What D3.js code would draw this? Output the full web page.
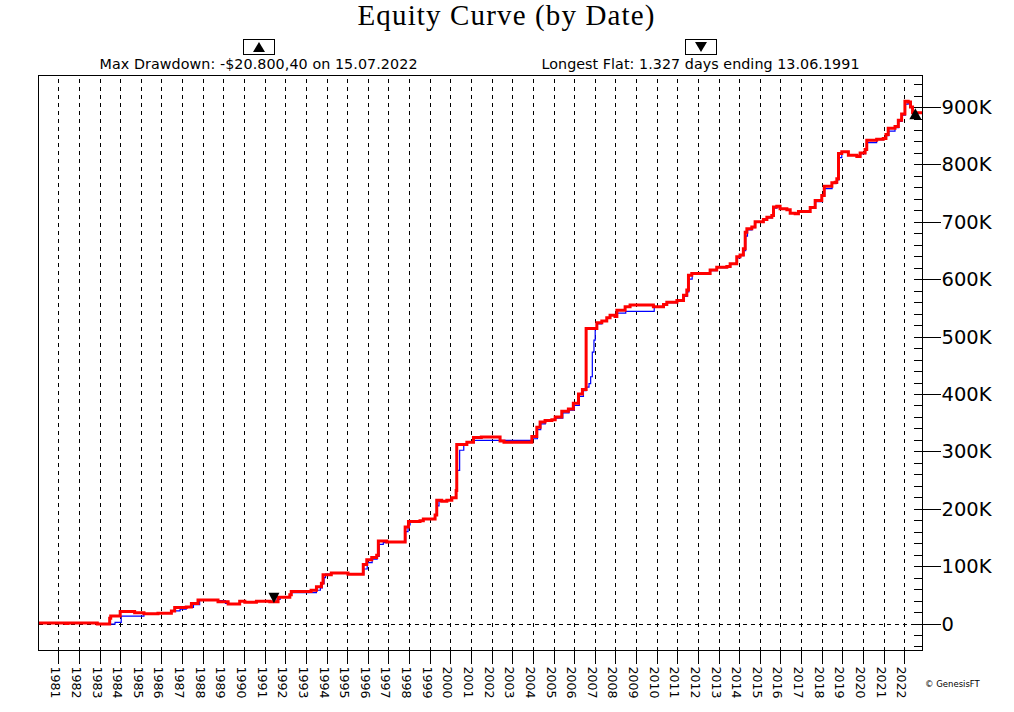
<!DOCTYPE html>
<html><head><meta charset="utf-8">
<script src="https://cdn.jsdelivr.net/npm/d3@7"></script>
<style>html,body{margin:0;padding:0;background:#fff;}svg{display:block;}</style>
</head><body>
<svg id="chart" width="1014" height="712"></svg>
<script>
// ---------- DATA (values in thousands of $) ----------
const titleText = "Equity Curve (by Date)";
const drawdownText = "Max Drawdown: -$20.800,40 on 15.07.2022";
const flatText = "Longest Flat: 1.327 days ending 13.06.1991";
const copyrightText = "\u00A9 GenesisFT";

const yearLabels = [1981,1982,1983,1984,1985,1986,1987,1988,1989,1990,1991,1992,1993,1994,1995,1996,1997,1998,1999,2000,2001,2002,2003,2004,2005,2006,2007,2008,2009,2010,2011,2012,2013,2014,2015,2016,2017,2018,2019,2020,2021,2022];
const yTickValues = [0,100,200,300,400,500,600,700,800,900];
const yTickLabels = ["0","100K","200K","300K","400K","500K","600K","700K","800K","900K"];

// open equity (red) : decimal year, value
const redYears = [1980.04,1981.37,1981.47,1981.63,1982.89,1982.92,1983.35,1983.49,1983.54,1984.0,1984.7,1985.15,1985.83,1986.48,1986.64,1987.2,1987.45,1987.77,1988.5,1988.74,1989.23,1989.79,1990.04,1990.6,1991.25,1991.65,1992.22,1992.29,1993.1,1993.25,1993.51,1993.75,1993.83,1994.23,1995.04,1995.78,1995.95,1996.19,1996.43,1996.51,1996.92,1997.81,1997.97,1998.53,1998.69,1999.26,1999.34,1999.58,1999.83,2000.07,2000.28,2000.31,2000.8,2001.12,2001.5,2002.41,2002.6,2003.95,2004.19,2004.35,2004.59,2004.92,2005.08,2005.4,2005.72,2005.96,2006.21,2006.4,2006.58,2007.1,2007.34,2007.58,2007.74,2007.98,2008.07,2008.47,2008.71,2009.84,2010.33,2010.49,2010.98,2011.3,2011.46,2011.54,2011.7,2012.59,2012.91,2013.4,2013.56,2013.88,2014.04,2014.2,2014.29,2014.37,2014.61,2014.77,2015.17,2015.34,2015.58,2015.66,2015.82,2015.98,2016.31,2016.47,2016.71,2016.87,2017.44,2017.68,2018.0,2018.12,2018.49,2018.65,2018.73,2018.81,2018.97,2019.29,2019.7,2019.86,2020.1,2020.18,2020.66,2020.98,2021.11,2021.22,2021.55,2021.71,2021.87,2022.03,2022.19,2022.3,2022.4,2022.88];
const redValues = [1,0,1,1,-1,-1,-1,9,13,21,19,17,18,22,28,29,35,41,41,38,34,39,37,39,38,46,50,56,56,58,64,70,85,88,86,103,111,115,119,144,142,168,178,179,182,189,215,213,215,219,232,312,316,324,325,318,316,326,342,351,354,355,360,370,374,384,400,408,514,524,527,533,537,535,546,552,555,552,556,560,563,572,581,607,610,616,621,622,627,639,642,653,682,688,691,700,704,708,711,726,727,723,721,715,714,718,725,737,746,762,768,769,775,819,822,816,814,820,826,842,844,845,852,863,866,877,888,910,909,900,890,890];

// closed equity (blue)
const blueYears = [1980.04,1981.37,1981.47,1981.63,1982.89,1982.92,1983.35,1983.75,1984.05,1985.15,1985.83,1986.48,1986.9,1987.2,1987.55,1987.85,1988.74,1989.1,1989.23,1989.79,1990.04,1990.6,1991.25,1991.6,1991.75,1992.22,1992.3,1993.1,1993.51,1993.7,1993.8,1993.88,1993.95,1994.23,1995.04,1995.8,1995.97,1996.21,1996.45,1996.55,1996.75,1996.92,1997.83,1997.95,1998.05,1998.53,1998.69,1999.26,1999.37,1999.45,1999.58,1999.83,2000.07,2000.28,2000.33,2000.45,2000.65,2000.8,2001.15,2003.97,2004.22,2004.38,2004.6,2004.92,2005.1,2005.45,2005.75,2006.0,2006.25,2006.45,2006.58,2006.72,2006.8,2006.88,2006.96,2007.02,2007.12,2007.34,2007.58,2007.74,2007.98,2008.09,2008.5,2009.88,2010.33,2010.5,2011.0,2011.32,2011.48,2011.56,2011.72,2012.6,2012.92,2013.4,2013.58,2013.9,2014.05,2014.22,2014.31,2014.4,2014.62,2014.78,2015.18,2015.35,2015.6,2015.68,2015.82,2015.98,2016.31,2016.47,2016.71,2016.87,2017.45,2017.7,2018.02,2018.14,2018.5,2018.75,2018.83,2018.97,2019.29,2019.7,2019.88,2020.12,2020.2,2020.66,2020.98,2021.13,2021.25,2021.55,2021.73,2021.89,2022.05,2022.19,2022.3,2022.4,2022.88];
const blueValues = [1,0,1,1,-1,-1,-1,2,13,17,18,22,25,28,33,41,40,35,34,39,37,39,38,42,46,50,54,54,58,62,70,80,86,88,86,95,106,112,117,138,141,142,160,172,177,179,182,189,205,213,213,215,219,232,267,302,312,316,319,322,338,348,354,355,358,367,372,380,396,406,412,418,430,473,494,514,522,527,533,537,535,541,544,552,556,559,563,570,578,600,610,615,620,622,626,637,641,650,675,686,690,699,703,707,710,724,727,723,721,715,714,717,724,735,745,758,767,773,812,822,816,814,819,825,838,843,845,850,858,864,875,886,905,909,900,890,890];

// markers: longest flat end (down) and max drawdown (up)
const markerYears = [1991.45, 2022.535];
const markerValues = [38, 889];
const markerKinds = ["down", "up"];

// ---------- CHART ----------
const svg = d3.select("#chart");
const L = 38.5, R = 922.5, T = 75.5, B = 650.5;
const x = d3.scaleLinear().domain([1980.04, 2022.882]).range([L, R]);
const y = d3.scaleLinear().domain([-47, 955]).range([B, T]);
const px = v => Math.round(x(v)) + 0.5;
const py = v => Math.round(y(v)) + 0.5;

svg.append("rect").attr("width", 1014).attr("height", 712).attr("fill", "#fff");

// title
svg.append("text").attr("x", 506).attr("y", 25).attr("text-anchor", "middle")
  .attr("font-family", "'Liberation Serif','Times New Roman',serif").attr("font-size", 29)
  .attr("textLength", 297).attr("lengthAdjust", "spacing").attr("fill", "#000").text(titleText);

// subtitles with marker boxes
const subs = [{cx: 258.5, text: drawdownText, kind: "up"}, {cx: 700.5, text: flatText, kind: "down"}];
subs.forEach(s => {
  svg.append("text").attr("x", s.cx).attr("y", 69).attr("text-anchor", "middle")
    .attr("font-family", "'DejaVu Sans',sans-serif").attr("font-size", 14.3)
    .attr("textLength", 318).attr("lengthAdjust", "spacing").attr("fill", "#000").text(s.text);
  svg.append("rect").attr("x", Math.round(s.cx - 16) + 0.5).attr("y", 39.5).attr("width", 31).attr("height", 15)
    .attr("fill", "#fff").attr("stroke", "#000").attr("stroke-width", 1);
  const c = Math.round(s.cx);
  const pts = s.kind === "up" ? [[c - 6, 52], [c + 6, 52], [c, 42]] : [[c - 6, 42], [c + 6, 42], [c, 52]];
  svg.append("path").attr("d", "M" + pts.join("L") + "Z").attr("fill", "#000");
});

// vertical grid (dashed) via axis
const grid = svg.append("g").attr("transform", `translate(0,${B})`)
  .call(d3.axisBottom(x).tickValues(yearLabels).tickSize(-(B - T)).tickFormat(""));
grid.select(".domain").remove();
grid.selectAll(".tick").attr("transform", d => `translate(${px(d)},0)`);
grid.selectAll(".tick line").attr("stroke", "#000").attr("stroke-dasharray", "4,4").attr("shape-rendering", "crispEdges");

// zero line
svg.append("line").attr("x1", L).attr("x2", R).attr("y1", py(0)).attr("y2", py(0))
  .attr("stroke", "#000").attr("stroke-dasharray", "4,4").attr("shape-rendering", "crispEdges");

// lines
svg.append("clipPath").attr("id", "clip").append("rect").attr("x", L).attr("y", T).attr("width", R - L).attr("height", B - T);
const line = d3.line().x(d => x(d[0])).y(d => y(d[1])).curve(d3.curveStepAfter);
const blueData = blueYears.map((t, i) => [t, blueValues[i]]);
const redData = redYears.map((t, i) => [t, redValues[i]]);
const plotG = svg.append("g").attr("clip-path", "url(#clip)");
plotG.append("path").datum(blueData).attr("d", line).attr("fill", "none").attr("stroke", "#0000ff").attr("stroke-width", 1.2);
plotG.append("path").datum(redData).attr("d", line).attr("fill", "none").attr("stroke", "#ff0000").attr("stroke-width", 3).attr("stroke-linejoin", "miter");

// markers on chart
markerYears.forEach((t, i) => {
  const cx = x(t), cy = y(markerValues[i]);
  const pts = markerKinds[i] === "up"
    ? [[cx - 6, cy + 6], [cx + 6, cy + 6], [cx, cy - 5]]
    : [[cx - 5.5, cy - 9], [cx + 5.5, cy - 9], [cx, cy + 1.5]];
  svg.append("path").attr("d", "M" + pts.join("L") + "Z").attr("fill", "#000");
});

// border
svg.append("rect").attr("x", L).attr("y", T).attr("width", R - L).attr("height", B - T)
  .attr("fill", "none").attr("stroke", "#000").attr("stroke-width", 1);

// x axis ticks + rotated labels
const xa = svg.append("g").attr("transform", `translate(0,${B})`)
  .call(d3.axisBottom(x).tickValues(yearLabels).tickSize(13).tickFormat(d => String(d)));
xa.select(".domain").remove();
xa.selectAll(".tick").attr("transform", d => `translate(${px(d)},0)`);
xa.selectAll(".tick line").attr("stroke", "#000").attr("shape-rendering", "crispEdges");
xa.selectAll(".tick text").attr("x", 0).attr("y", 0).attr("dy", 0)
  .attr("transform", "translate(-3,16) rotate(90)")
  .attr("text-anchor", "start").attr("dominant-baseline", "central")
  .attr("font-family", "'DejaVu Sans',sans-serif").attr("font-size", 12.6).attr("fill", "#000");

// y axis: minor ticks
const minorVals = d3.range(-40, 960, 20);
const ym = svg.append("g").attr("transform", `translate(${R - 9},0)`)
  .call(d3.axisRight(y).tickValues(minorVals).tickSize(9).tickFormat(""));
ym.select(".domain").remove();
ym.selectAll(".tick").attr("transform", d => `translate(0,${py(d)})`);
ym.selectAll(".tick line").attr("stroke", "#000").attr("shape-rendering", "crispEdges");

// y axis: major ticks with labels
const ya = svg.append("g").attr("transform", `translate(${R - 9},0)`)
  .call(d3.axisRight(y).tickValues(yTickValues).tickSize(27).tickPadding(1).tickFormat((d, i) => yTickLabels[i]));
ya.select(".domain").remove();
ya.selectAll(".tick").attr("transform", d => `translate(0,${py(d)})`);
ya.selectAll(".tick line").attr("stroke", "#000").attr("shape-rendering", "crispEdges");
ya.selectAll(".tick text").attr("dy", 0).attr("dominant-baseline", "central")
  .attr("font-family", "'DejaVu Sans',sans-serif").attr("font-size", 19.5).attr("fill", "#000");

// copyright
svg.append("text").attr("x", 925).attr("y", 684).attr("dominant-baseline", "central")
  .attr("font-family", "'DejaVu Sans',sans-serif").attr("font-size", 8.5).attr("fill", "#000").text(copyrightText);
</script>
</body></html>
